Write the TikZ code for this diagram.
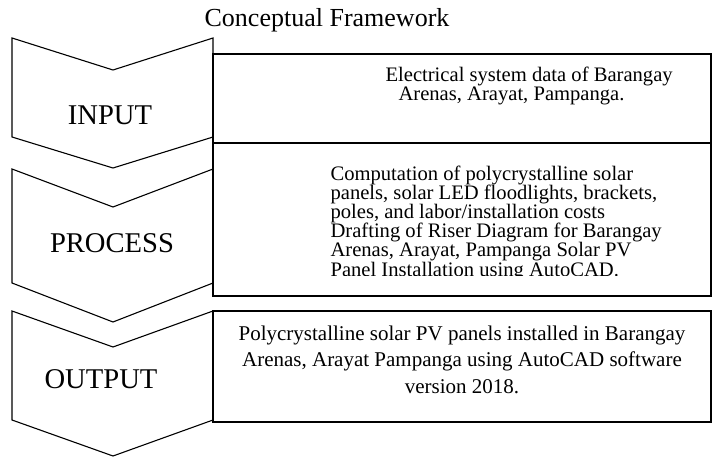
\documentclass[tikz,border=0pt]{standalone}
\usepackage{fontspec}
\setmainfont{Liberation Serif}
\begin{document}
\lineskiplimit=-20pt
\begin{tikzpicture}[x=1pt, y=-1pt, line width=1.1pt,
    stage/.style={font=\fontsize{28.6}{30}\selectfont, anchor=base, inner sep=0pt},
    info/.style={font=\fontsize{20.6}{19.2}\selectfont, inner sep=0pt}]
    \useasboundingbox (0,0) rectangle (714,457);

    \node (title) [anchor=base, inner sep=0pt, font=\fontsize{26}{30}\selectfont] at (327,27) {Conceptual Framework};

    % chevrons
    \draw (12,38) -- (113,70) -- (213,38) -- (213,137) -- (113,168) -- (12,137) -- cycle;
    \draw (12,169) -- (113,207) -- (213,169) -- (213,283) -- (113,322) -- (12,283) -- cycle;
    \draw (12,311) -- (113,347) -- (213,311) -- (213,420) -- (113,456) -- (12,420) -- cycle;

    % boxes
    \draw (213,54) rectangle (711,143);
    \draw (213,143) rectangle (711,296);
    \draw (213,311) rectangle (711,422);

    \node (input) [stage] at (110,125) {INPUT};
    \node (process) [stage] at (112,252) {PROCESS};
    \node (output) [stage] at (101,388) {OUTPUT};

    \node (indata) [info, anchor=north west, align=left] at (385,66)
        {Electrical system data of Barangay\\\hspace*{13pt}Arenas, Arayat, Pampanga.};
    \begin{scope}
        \clip (213,143) rectangle (711,275);
        \node (procdata) [info, anchor=north west, align=left] at (330,165)
            {Computation of polycrystalline solar\\
             panels, solar LED floodlights, brackets,\\
             poles, and labor/installation costs\\
             Drafting of Riser Diagram for Barangay\\
             Arenas, Arayat, Pampanga Solar PV\\
             Panel Installation using AutoCAD.};
    \end{scope}
    \node (outdata) [info, font=\fontsize{21}{26.5}\selectfont, anchor=north, align=center] at (462,325)
        {Polycrystalline solar PV panels installed in Barangay\\
         Arenas, Arayat Pampanga using AutoCAD software\\
         version 2018.};
\end{tikzpicture}
\end{document}
